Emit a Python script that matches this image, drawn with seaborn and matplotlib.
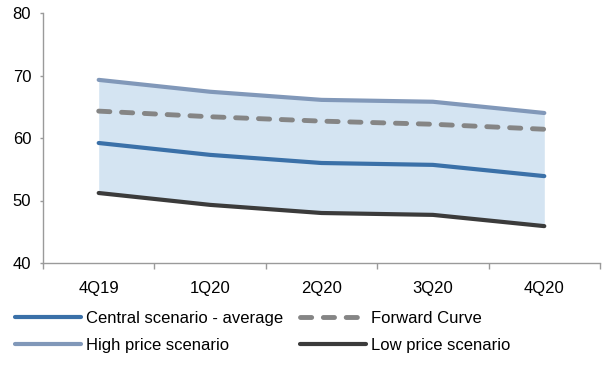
import matplotlib
matplotlib.use('Agg')
import matplotlib.pyplot as plt
import seaborn as sns
import pandas as pd

quarters = ['4Q19', '1Q20', '2Q20', '3Q20', '4Q20']
central = [59.2, 57.3, 56.0, 55.7, 53.9]
forward = [64.3, 63.4, 62.7, 62.2, 61.4]
high = [69.3, 67.4, 66.1, 65.8, 64.0]
low = [51.2, 49.3, 48.0, 47.7, 45.9]

sns.set_style('white')
plt.rcParams['font.family'] = ['Liberation Sans', 'DejaVu Sans']
plt.rcParams['text.color'] = 'black'
plt.rcParams['xtick.color'] = 'black'
plt.rcParams['ytick.color'] = 'black'

df = pd.DataFrame({'pos': range(len(quarters)), 'quarter': quarters,
                   'central': central, 'forward': forward, 'high': high, 'low': low})

W, H = 611, 373
fig = plt.figure(figsize=(W / 100, H / 100), dpi=100)
ax = fig.add_axes([43 / W, 1 - 263 / H, (600 - 43) / W, (263 - 13) / H])

# shaded band between low and high scenarios
ax.fill_between(df['pos'], df['low'], df['high'], color='#d4e4f2', lw=0, zorder=1)

sns.lineplot(data=df, x='pos', y='central', ax=ax, color='#3a70a8', lw=3,
             label='Central scenario - average', zorder=3)
sns.lineplot(data=df, x='pos', y='forward', ax=ax, color='#858585', lw=3.5,
             label='Forward Curve', zorder=3)
ax.lines[-1].set_dashes([2.3, 2.4])
sns.lineplot(data=df, x='pos', y='high', ax=ax, color='#8198b9', lw=3,
             label='High price scenario', zorder=3)
sns.lineplot(data=df, x='pos', y='low', ax=ax, color='#3b3b3b', lw=3,
             label='Low price scenario', zorder=3)
for ln in ax.lines:
    ln.set_solid_capstyle('round')
    ln.set_dash_capstyle('round')

ax.set_xlim(-0.5, len(quarters) - 0.5)
ax.set_ylim(40, 80)
ax.set_yticks([40, 50, 60, 70, 80])
ax.set_xticks([i - 0.5 for i in range(len(quarters) + 1)])
ax.set_xticklabels([])
ax.set_xticks(range(len(quarters)), minor=True)
ax.set_xticklabels(quarters, minor=True)
ax.tick_params(axis='x', which='major', length=4, width=1, color='#9a9a9a', direction='out', bottom=True)
ax.tick_params(axis='x', which='minor', length=0, labelsize=12, pad=13)
ax.tick_params(axis='y', length=2.5, width=1, color='#9a9a9a', direction='out', left=True, labelsize=12, pad=6)
ax.set_xlabel('')
ax.set_ylabel('')

sns.despine(ax=ax)
for s in ['left', 'bottom']:
    ax.spines[s].set_color('#9a9a9a')
    ax.spines[s].set_linewidth(1)

# legend is filled column-wise, so reorder to read row-wise like the original
handles, labels = ax.get_legend_handles_labels()
order = [0, 2, 1, 3]
ax.get_legend().remove()
fig.legend([handles[i] for i in order], [labels[i] for i in order], ncol=2,
           loc='upper left', bbox_to_anchor=(15 / W, 1 - 311 / H),
           frameon=False, fontsize=12, handlelength=3.95, handletextpad=0.33,
           columnspacing=1.0, labelspacing=0.72, borderpad=0, borderaxespad=0)

fig.savefig('out.png', dpi=100)
